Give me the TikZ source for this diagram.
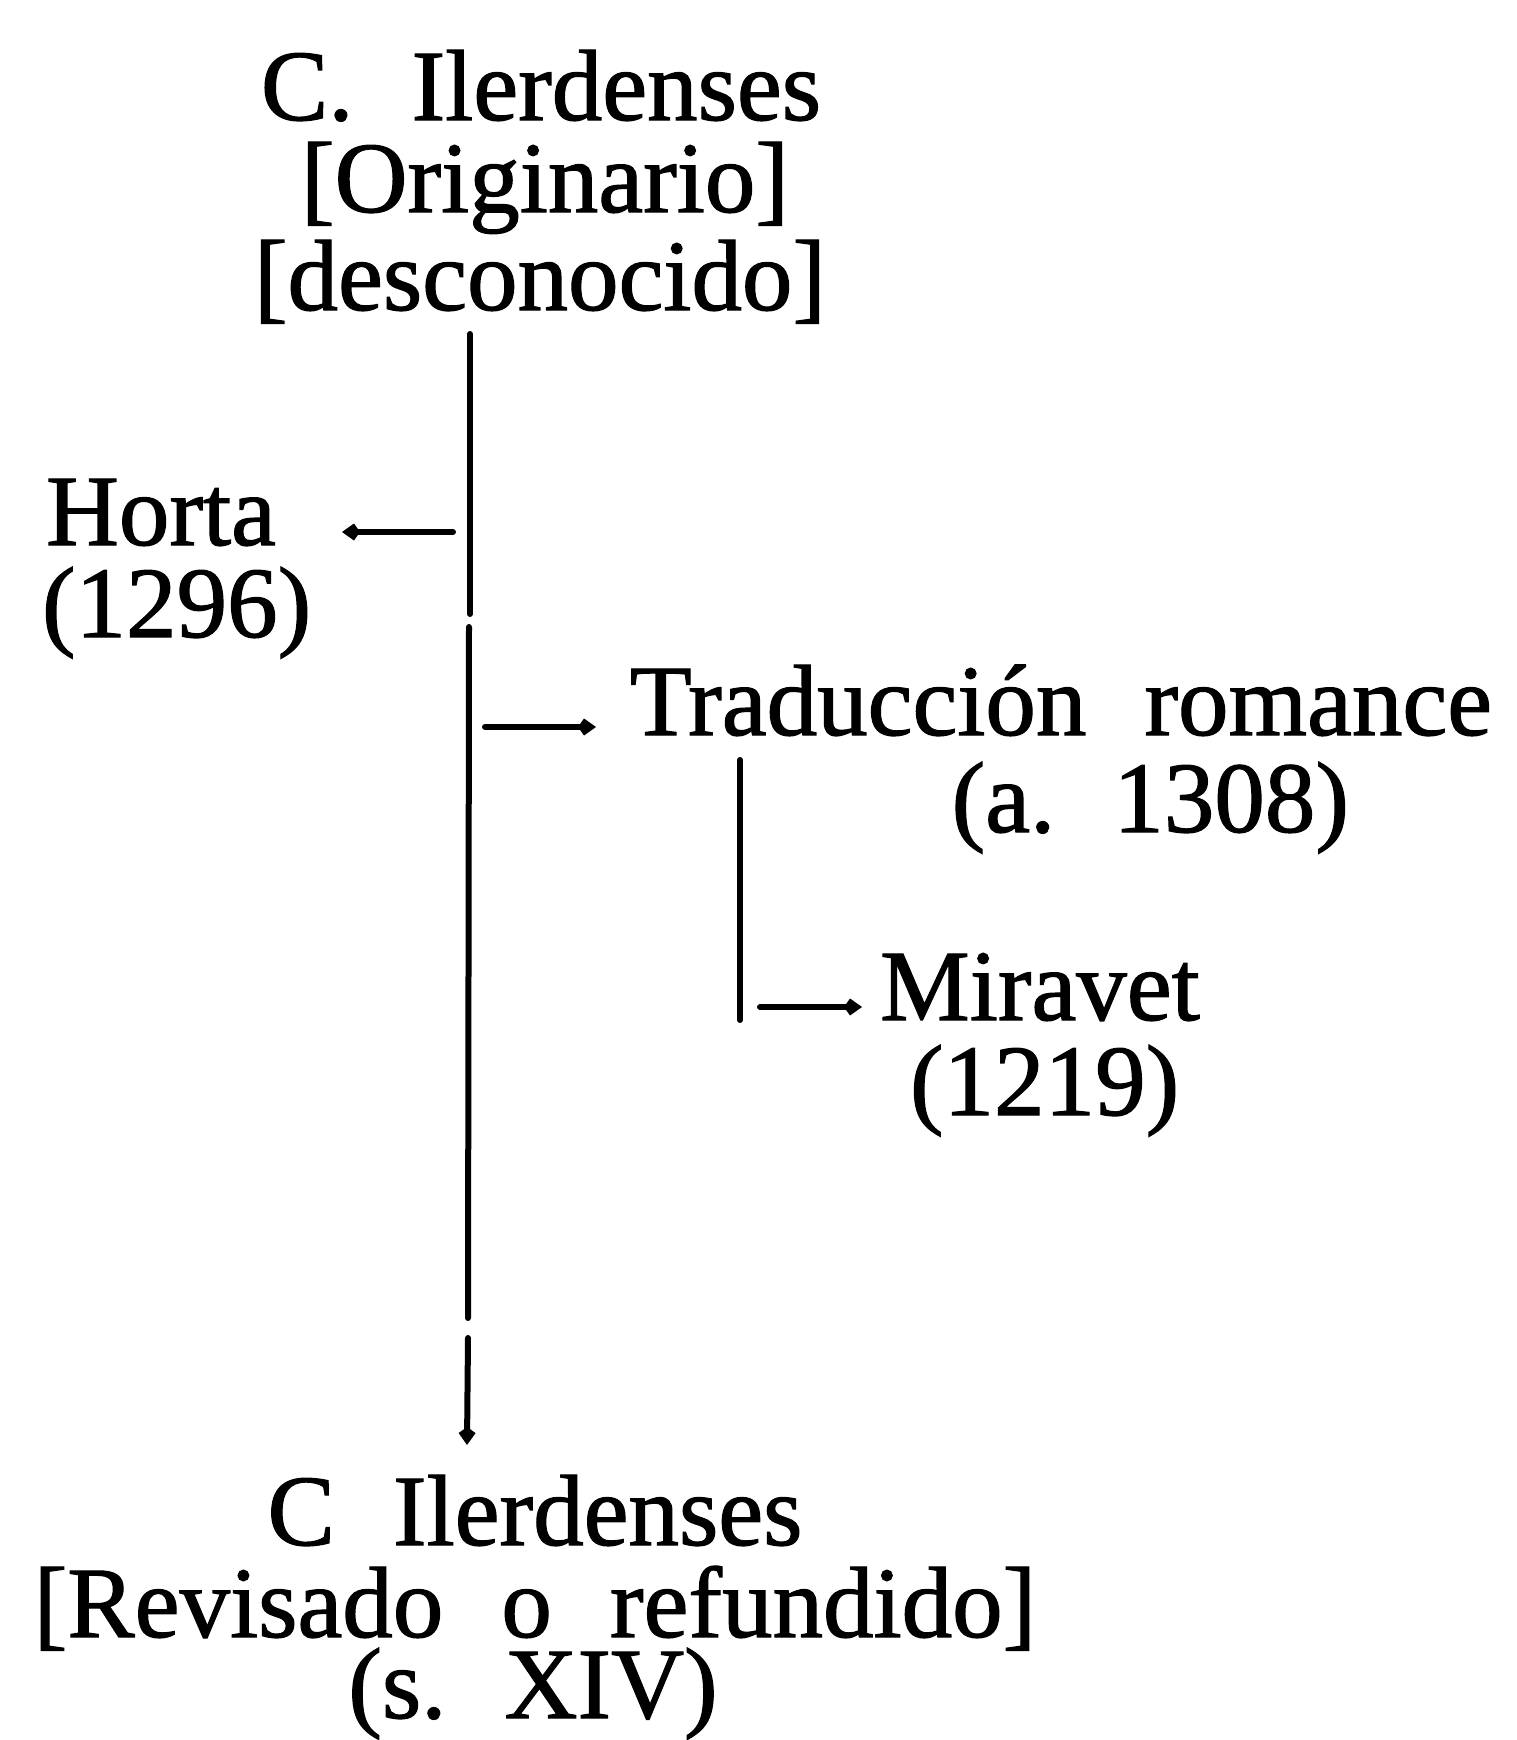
\documentclass[tikz,border=0pt]{standalone}
\usepackage{fontspec}
\setmainfont[WordSpace=2.3,FakeBold=1.2]{Liberation Serif}
\usetikzlibrary{arrows.meta}
\begin{document}
\frenchspacing
\begin{tikzpicture}[x=0.5pt,y=-0.5pt,
  lbl/.style={inner sep=0pt, outer sep=0pt, font=\fontsize{50.5pt}{57pt}\selectfont},
  conn/.style={line width=3pt, line cap=round},
  arr/.style={conn, -{Kite[length=9pt,width=8.5pt,inset=3pt]}}]
\useasboundingbox (0,0) rectangle (1516,1740);
% texts
\node[lbl, anchor=base] (t1) at (541,120) {C. Ilerdenses};
\node[lbl, anchor=base] (t2) at (545,212) {[Originario]};
\node[lbl, anchor=base] (t3) at (540,310) {[desconocido]};
\node[lbl, anchor=base west] (h1) at (46,545) {Horta};
\node[lbl, anchor=base west] (h2) at (42,637) {(1296)};
\node[lbl, anchor=base west] (tr1) at (630,735) {Traducción romance};
\node[lbl, anchor=base east] (tr2) at (1349,832) {(a. 1308)};
\node[lbl, anchor=base west] (m1) at (880,1020) {Miravet};
\node[lbl, anchor=base west] (m2) at (910,1115) {(1219)};
\node[lbl, anchor=base] (b1) at (535,1545) {C Ilerdenses};
\node[lbl, anchor=base] (b2) at (535,1637) {[Revisado o refundido]};
\node[lbl, anchor=base] (b3) at (533,1718) {(s. XIV)};
% trunk coordinates
\coordinate (k0) at (470,334);
\coordinate (k1) at (470,614);
\coordinate (k2) at (469,627);
\coordinate (k3) at (468,1318);
\coordinate (k4) at (468,1338);
\coordinate (k5) at (467,1445);
\draw[conn] (k0) -- (k1);
\draw[conn] (k2) -- (k3);
\draw[arr] (k4) -- (k5);
% branches
\coordinate (hs) at (453,532);
\coordinate (ht) at (342,532);
\draw[arr] (hs) -- (ht);
\coordinate (ts) at (485,727);
\coordinate (tt) at (596,727);
\draw[arr] (ts) -- (tt);
\coordinate (s0) at (740,760);
\coordinate (s1) at (740,1020);
\draw[conn] (s0) -- (s1);
\coordinate (ms) at (760,1007);
\coordinate (mt) at (862,1007);
\draw[arr] (ms) -- (mt);
\end{tikzpicture}
\end{document}
